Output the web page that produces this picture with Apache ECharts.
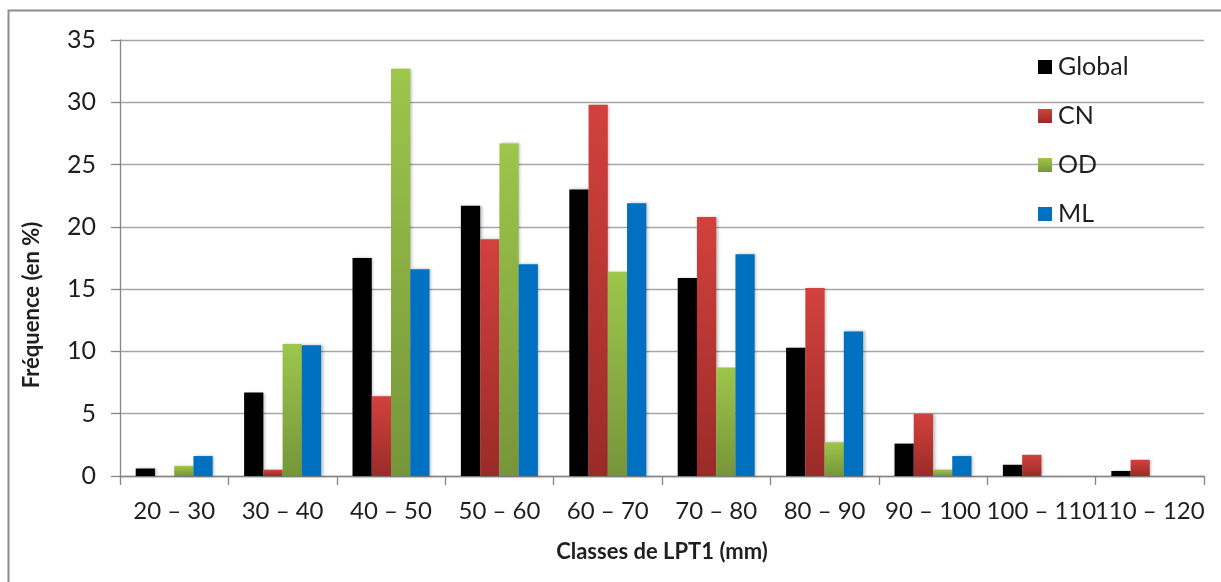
<!DOCTYPE html>
<html>
<head>
<meta charset="utf-8">
<script src="https://cdn.jsdelivr.net/npm/echarts@6/dist/echarts.min.js"></script>
<style>
  html, body { margin: 0; padding: 0; background: #ffffff; }
  #chart { width: 1221px; height: 582px; }
</style>
</head>
<body>
<div id="chart"></div>
<script>
// Length classes of LPT1 (mm)
const categories = ['20 – 30', '30 – 40', '40 – 50', '50 – 60', '60 – 70',
                    '70 – 80', '80 – 90', '90 – 100', '100 – 110', '110 – 120'];

// Frequency per class (%)
const globalValues = [0.6, 6.7, 17.5, 21.7, 23.0, 15.9, 10.3, 2.6, 0.9, 0.4];
const cnValues     = [0,   0.5, 6.4,  19.0, 29.8, 20.8, 15.1, 5.0, 1.7, 1.3];
const odValues     = [0.8, 10.6, 32.7, 26.7, 16.4, 8.7, 2.7, 0.5, 0,   0];
const mlValues     = [1.6, 10.5, 16.6, 17.0, 21.9, 17.8, 11.6, 1.6, 0,   0];

const yTicks = { min: 0, max: 35, interval: 5 };

const FONT = 'Lato, "Open Sans", "DejaVu Sans", sans-serif';
const TEXT = '#1f1f1f';
const AXIS = '#868686';

const grad = (top, bottom) => new echarts.graphic.LinearGradient(0, 0, 0, 1, [
  { offset: 0, color: top }, { offset: 1, color: bottom }
]);

const shadow = { shadowBlur: 3, shadowColor: 'rgba(0,0,0,0.28)', shadowOffsetX: 1.5, shadowOffsetY: 0 };

function barSeries(name, data, color) {
  return {
    name, type: 'bar', data,
    barGap: '0%', barCategoryGap: '29%',
    itemStyle: Object.assign({ color }, shadow),
    emphasis: { disabled: true }
  };
}

const chart = echarts.init(document.getElementById('chart'), null, { renderer: 'canvas' });

chart.setOption({
  animation: false,
  backgroundColor: '#ffffff',
  grid: { left: 120, right: 17, top: 40, bottom: 106, containLabel: false },
  legend: {
    orient: 'vertical',
    left: 1033, top: 47,
    itemWidth: 14, itemHeight: 14, itemGap: 19,
    icon: 'rect',
    textStyle: { fontFamily: FONT, fontSize: 25, color: TEXT, lineHeight: 30, padding: [0, 0, 0, 1] },
    data: ['Global', 'CN', 'OD', 'ML']
  },
  xAxis: {
    type: 'category',
    data: categories,
    axisLine: { lineStyle: { color: AXIS, width: 1.3 } },
    axisTick: { show: true, length: 9, lineStyle: { color: AXIS, width: 1.3 } },
    axisLabel: { interval: 0, margin: 23, fontFamily: FONT, fontSize: 24, color: TEXT }
  },
  yAxis: {
    type: 'value',
    min: yTicks.min, max: yTicks.max, interval: yTicks.interval,
    axisLine: { show: true, lineStyle: { color: AXIS, width: 1.3 } },
    axisTick: { show: true, length: 9, lineStyle: { color: AXIS, width: 1.3 } },
    axisLabel: { margin: 24, fontFamily: FONT, fontSize: 25, color: TEXT },
    splitLine: { lineStyle: { color: '#a6a6a6', width: 1.3 } }
  },
  series: [
    barSeries('Global', globalValues, '#000000'),
    barSeries('CN', cnValues, grad('#d2413d', '#9a2b28')),
    barSeries('OD', odValues, grad('#9dc64b', '#76953a')),
    barSeries('ML', mlValues, '#0070c0')
  ],
  graphic: [
    {
      type: 'rect', silent: true,
      shape: { x: 8.5, y: 10.5, width: 1260, height: 700 },
      style: { fill: 'none', stroke: '#8c8c8c', lineWidth: 2 }
    },
    {
      type: 'text', silent: true,
      x: 32, y: 305, rotation: Math.PI / 2,
      style: {
        text: 'Fréquence (en %)', fontFamily: FONT, fontSize: 22, fontWeight: 'bold',
        fill: TEXT, align: 'center', verticalAlign: 'middle'
      }
    },
    {
      type: 'text', silent: true,
      x: 662, y: 552,
      style: {
        text: 'Classes de LPT1 (mm)', fontFamily: FONT, fontSize: 22, fontWeight: 'bold',
        fill: TEXT, align: 'center', verticalAlign: 'middle'
      }
    }
  ]
});
</script>
</body>
</html>
